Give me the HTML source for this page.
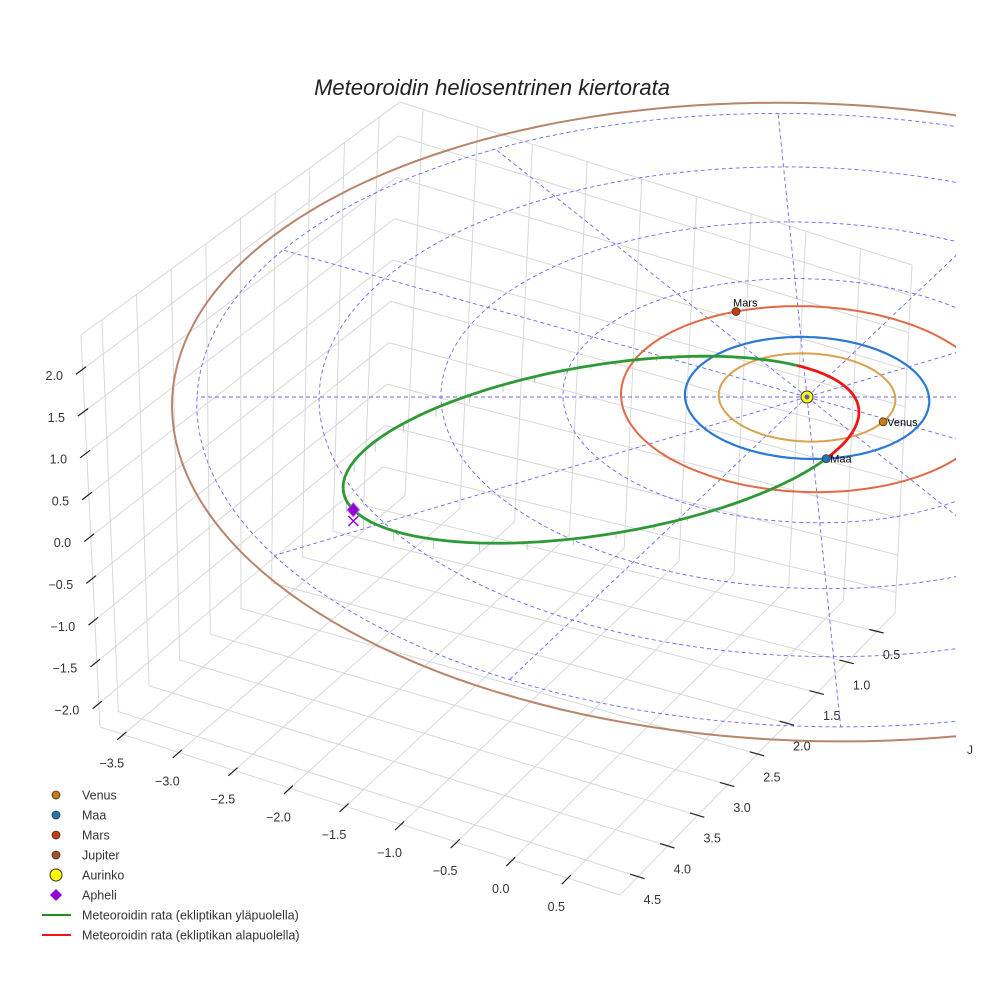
<!DOCTYPE html>
<html><head><meta charset="utf-8"><style>
html,body{margin:0;padding:0;background:#fff}
svg{display:block;font-family:"Liberation Sans",sans-serif}
</style></head><body>
<svg id="c" width="984" height="984" viewBox="0 0 984 984">
<rect width="984" height="984" fill="#fff"/>
<text x="492" y="95" text-anchor="middle" font-size="22" font-style="italic" fill="#222">Meteoroidin heliosentrinen kiertorata</text>
<defs><clipPath id="clip"><rect x="0" y="0" width="956" height="984"/></clipPath></defs>
<g id="grid"></g>
<g id="plot" clip-path="url(#clip)"></g>
<g id="ticks"></g>
<g id="legend"></g>
</svg>
<script>
// axis data
const xTicks=[-3.5,-3.0,-2.5,-2.0,-1.5,-1.0,-0.5,0.0,0.5];
const yTicks=[0.5,1.0,1.5,2.0,2.5,3.0,3.5,4.0,4.5];
const zTicks=[-2.0,-1.5,-1.0,-0.5,0.0,0.5,1.0,1.5,2.0];
const xRange=[-3.71,0.97];
const yRange=[0.2,4.8];
const zRange=[-2.28,2.41];
// planets
const planetNames=['Venus','Maa','Mars','Jupiter'];
const planetRadii=[0.723,1.0,1.524,5.203];
const planetAngles=[34,84,250,10];
// meteoroid orbit elements
const meteorAphelion=[4.2];
const meteorEcc=[0.8365];
const meteorPeriAngle=[-28];
const meteorNodeTheta=[112];
const meteorIncl=[2.0];
// ecliptic grid
const gridRadii=[1,2,3,4,5];
const gridSpokes=[0,30,60,90,120,150,180,210,240,270,300,330];

const NS='http://www.w3.org/2000/svg';
function mk(tag,attrs,parent){const e=document.createElementNS(NS,tag);for(const k in attrs)e.setAttribute(k,attrs[k]);parent.appendChild(e);return e;}
const B={'00':[382,490],'01':[100,727],'10':[895,613],'11':[620,895]};
const T={'00':[400,102],'01':[81,335],'10':[912,265],'11':[605,540]};
function box(x,y,z){
  const u=(x-xRange[0])/(xRange[1]-xRange[0]);
  const v=(y-yRange[0])/(yRange[1]-yRange[0]);
  const w=(z-zRange[0])/(zRange[1]-zRange[0]);
  const bl=(P)=>{const a=P['00'],b=P['10'],c=P['01'],d=P['11'];
    return [a[0]*(1-u)*(1-v)+b[0]*u*(1-v)+c[0]*(1-u)*v+d[0]*u*v, a[1]*(1-u)*(1-v)+b[1]*u*(1-v)+c[1]*(1-u)*v+d[1]*u*v];};
  const p=bl(B),q=bl(T);
  return [p[0]*(1-w)+q[0]*w,p[1]*(1-w)+q[1]*w];
}
const grid=document.getElementById('grid');
function gl(a,b,name){const l=mk('line',{x1:a[0],y1:a[1],x2:b[0],y2:b[1],stroke:'#d8d8d8','stroke-width':1},grid);

}
gl(box(xRange[0],yRange[1],zRange[0]),box(xRange[0],yRange[1],zRange[1]),'pane-edge');
gl(box(xRange[0],yRange[1],zRange[1]),box(xRange[0],yRange[0],zRange[1]),'pane-edge');
gl(box(xRange[0],yRange[0],zRange[1]),box(xRange[1],yRange[0],zRange[1]),'pane-edge');
gl(box(xRange[1],yRange[0],zRange[1]),box(xRange[1],yRange[0],zRange[0]),'pane-edge');
gl(box(xRange[1],yRange[0],zRange[0]),box(xRange[1],yRange[1],zRange[0]),'pane-edge');
gl(box(xRange[1],yRange[1],zRange[0]),box(xRange[0],yRange[1],zRange[0]),'pane-edge');
yTicks.forEach(y=>gl(box(xRange[0],y,zRange[0]),box(xRange[0],y,zRange[1]),'left-wall-gridline'));
zTicks.forEach(z=>gl(box(xRange[0],yRange[0],z),box(xRange[0],yRange[1],z),'left-wall-gridline'));
xTicks.forEach(x=>gl(box(x,yRange[0],zRange[0]),box(x,yRange[0],zRange[1]),'back-wall-gridline'));
zTicks.forEach(z=>gl(box(xRange[0],yRange[0],z),box(xRange[1],yRange[0],z),'back-wall-gridline'));
xTicks.forEach(x=>gl(box(x,yRange[0],zRange[0]),box(x,yRange[1],zRange[0]),'floor-gridline'));
yTicks.forEach(y=>gl(box(xRange[0],y,zRange[0]),box(xRange[1],y,zRange[0]),'floor-gridline'));

const tk=document.getElementById('ticks');
function tick(a,b,dx,dy,txt,name,anchor){
  const l=mk('line',{x1:a[0],y1:a[1],x2:b[0],y2:b[1],stroke:'#222','stroke-width':1.2},tk);
  
  
  const mx=(a[0]+b[0])/2,my=(a[1]+b[1])/2;
  const t=mk('text',{x:mx+dx,y:my+dy+4.5,'font-size':12.5,fill:'#333','text-anchor':anchor||'middle'},tk);
  t.textContent=txt.replace('-','\u2212');
  
  
}
xTicks.forEach(x=>tick(box(x,yRange[1]-0.05,zRange[0]),box(x,yRange[1]+0.1,zRange[0]),-10,27,x.toFixed(1),'x-axis'));
yTicks.forEach(y=>tick(box(xRange[1]-0.07,y,zRange[0]),box(xRange[1]+0.06,y,zRange[0]),15,23,y.toFixed(1),'y-axis'));
zTicks.forEach(z=>tick(box(xRange[0],yRange[1]-0.05,z),box(xRange[0],yRange[1]+0.1,z),-18,5,z.toFixed(1),'z-axis','end'));
const jl=mk('text',{x:967,y:754,'font-size':12,fill:'#333'},tk);jl.textContent='J';



// ecliptic projection with perspective
function proj(X,Y,Z){const f=1/(1-0.0151*Y);return [395+(412+122*X)*f,397+61*Y*f-80*Z*f];}
const plot=document.getElementById('plot');
function path(pts){return 'M'+pts.map(p=>p[0].toFixed(1)+','+p[1].toFixed(1)).join('L');}
function circlePts(r){const a=[];for(let i=0;i<=360;i+=2){const t=i*Math.PI/180;a.push(proj(r*Math.cos(t),r*Math.sin(t),0));}return a;}
gridRadii.forEach(r=>{const p=mk('path',{d:path(circlePts(r)),fill:'none',stroke:'#6a6aee','stroke-width':0.9,'stroke-dasharray':'4,3'},plot);

});
gridSpokes.forEach(a=>{const t=a*Math.PI/180,R=gridRadii[gridRadii.length-1];
const p0=proj(0,0,0),p1=proj(R*Math.cos(t),R*Math.sin(t),0);
const l=mk('line',{x1:p0[0],y1:p0[1],x2:p1[0],y2:p1[1],stroke:'#6a6aee','stroke-width':0.9,'stroke-dasharray':'4,3'},plot);

});

const orbitColors=['#d9a24e','#2c78d4','#e06a45','#b8846a'];
const markerColors=['#c97a12','#1f77b4','#cc3b0c','#a0522d'];
planetRadii.forEach((r,i)=>{const p=mk('path',{d:path(circlePts(r)),fill:'none',stroke:orbitColors[i],'stroke-width':i==1?2.2:2},plot);

});

const Q=meteorAphelion[0],e=meteorEcc[0],pp=Q*(1-e),inc=meteorIncl[0]*Math.PI/180;
function mpos(thDeg){const th=thDeg*Math.PI/180;const r=pp/(1+e*Math.cos(th));
const phi=(meteorPeriAngle[0]+thDeg)*Math.PI/180;
return [r*Math.cos(phi),r*Math.sin(phi),r*Math.sin(th-meteorNodeTheta[0]*Math.PI/180)*Math.sin(inc)];}
const n0=meteorNodeTheta[0];
for(let th=n0+6;th<n0+180;th+=4){const m=mpos(th);const a=proj(m[0],m[1],m[2]),b=proj(m[0],m[1],0);
const l=mk('line',{x1:a[0],y1:a[1],x2:b[0],y2:b[1],stroke:'#a8c8a8','stroke-width':0.8},plot);

}
const green=[],red=[];
for(let th=n0;th<=n0+180.01;th+=1){const m=mpos(th);green.push(proj(m[0],m[1],m[2]));}
for(let th=n0-180;th<=n0+0.01;th+=1){const m=mpos(th);red.push(proj(m[0],m[1],m[2]));}
const gp=mk('path',{d:path(green),fill:'none',stroke:'#2e9a35','stroke-width':2.8},plot);


const rp=mk('path',{d:path(red),fill:'none',stroke:'#ee1515','stroke-width':2.8},plot);



const ap=mpos(180),apS=proj(ap[0],ap[1],ap[2]),apE=proj(ap[0],ap[1],0);
const ax=mk('path',{d:`M${apE[0]-5},${apE[1]-5}L${apE[0]+5},${apE[1]+5}M${apE[0]-5},${apE[1]+5}L${apE[0]+5},${apE[1]-5}`,stroke:'#9400d3','stroke-width':1.5},plot);


const ad=mk('path',{d:`M${apS[0]},${apS[1]-7}L${apS[0]+6},${apS[1]}L${apS[0]},${apS[1]+7}L${apS[0]-6},${apS[1]}Z`,fill:'#9400d3',stroke:'#b050e0','stroke-width':1},plot);



const s=proj(0,0,0);
const sc=mk('circle',{cx:s[0],cy:s[1],r:6,fill:'#ffff00',stroke:'#333','stroke-width':1},plot);


mk('circle',{cx:s[0],cy:s[1],r:2.5,fill:'#5a5ad8'},plot);

planetRadii.forEach((r,i)=>{const t=planetAngles[i]*Math.PI/180;const p=proj(r*Math.cos(t),r*Math.sin(t),0);
const c=mk('circle',{cx:p[0],cy:p[1],r:4,fill:markerColors[i],stroke:'#333','stroke-width':0.8},plot);


const tx=mk('text',{x:i==2?p[0]-3:p[0]+4,y:i==2?p[1]-5:p[1]+4,'font-size':11,fill:'#000'},plot);
tx.textContent=planetNames[i];

});

const lg=document.getElementById('legend');
const legendLabels=['Venus','Maa','Mars','Jupiter','Aurinko','Apheli','Meteoroidin rata (ekliptikan yläpuolella)','Meteoroidin rata (ekliptikan alapuolella)'];
legendLabels.forEach((lab,i)=>{const y=795+i*20;
let m;
if(i<4){m=mk('circle',{cx:56,cy:y,r:4,fill:markerColors[i],stroke:'#333','stroke-width':0.8},lg);}
else if(i==4){m=mk('circle',{cx:56,cy:y,r:6,fill:'#ffff00',stroke:'#333','stroke-width':1},lg);}
else if(i==5){m=mk('path',{d:`M56,${y-6}L62,${y}L56,${y+6}L50,${y}Z`,fill:'#9400d3'},lg);}
else{m=mk('line',{x1:42,y1:y,x2:71,y2:y,stroke:i==6?'#1a8f1a':'#ee1515','stroke-width':2},lg);}


const t=mk('text',{x:82,y:y+4.5,'font-size':12.5,fill:'#333'},lg);t.textContent=lab;

});
</script>
</body></html>
